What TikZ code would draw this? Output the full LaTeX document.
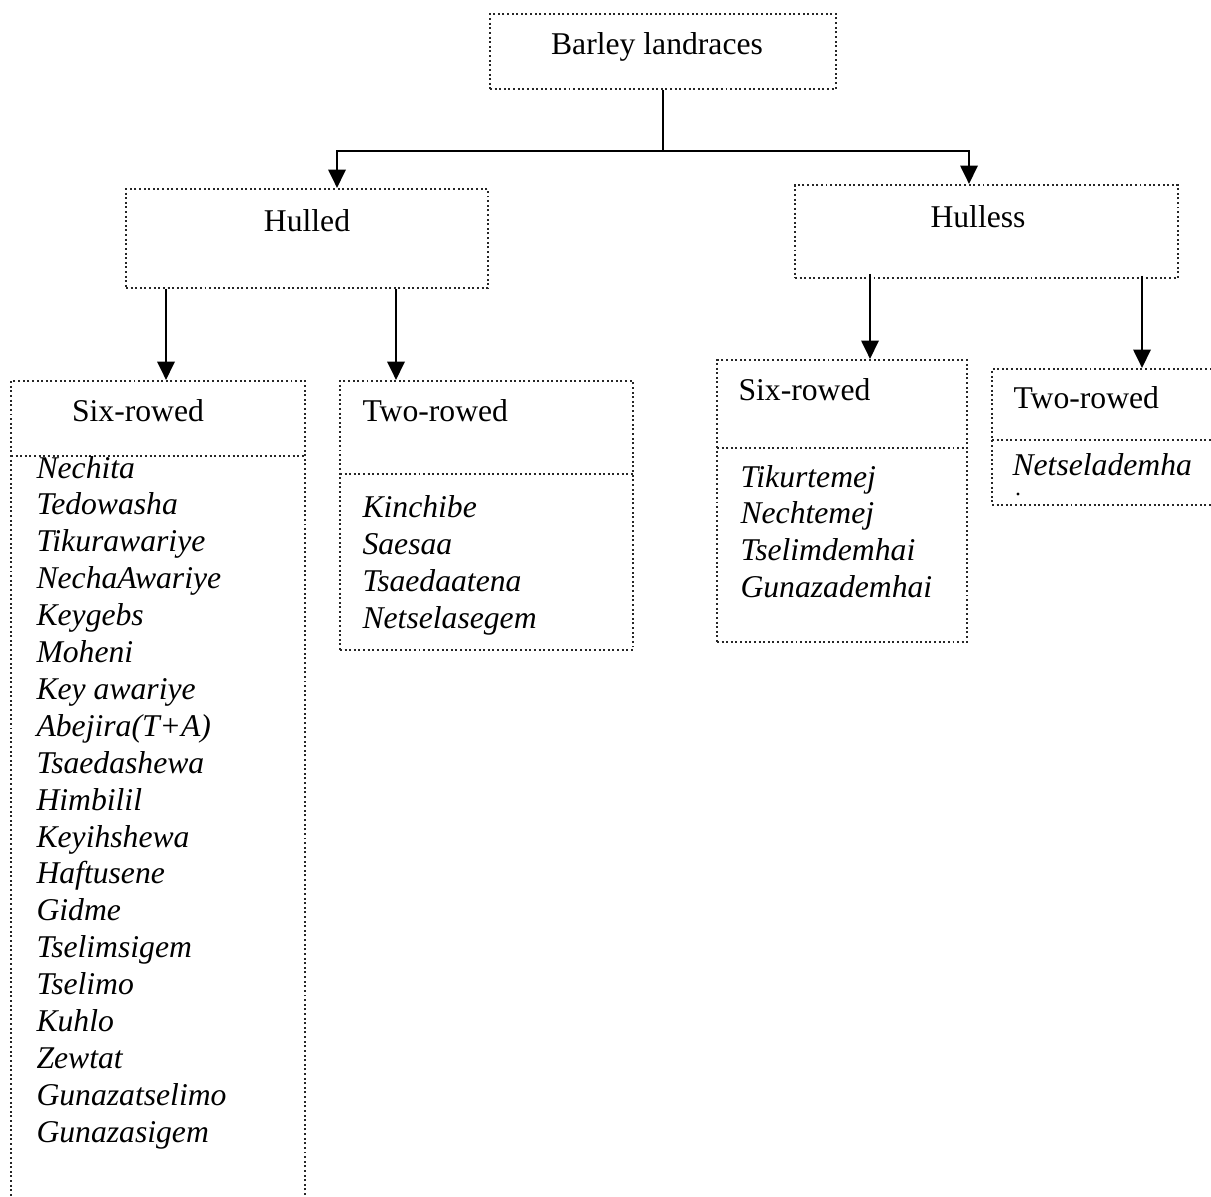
\documentclass[tikz,border=0pt]{standalone}
\usepackage{fontspec}
\setmainfont{Liberation Serif}
\usetikzlibrary{arrows.meta,fit,calc}
\begin{document}
\begin{tikzpicture}[x=0.379pt,y=-0.379pt,
  box/.style={draw=black!85, densely dotted, line width=0.75pt, inner sep=0pt},
  divider/.style={draw=black!85, densely dotted, line width=0.75pt},
  txt/.style={inner sep=0pt, font=\fontsize{12pt}{14pt}\selectfont},
  itm/.style={inner sep=0pt, font=\fontsize{12pt}{14pt}\selectfont\itshape, anchor=base west},
  conn/.style={line width=1.1pt, draw=black},
  arr/.style={conn, -{Triangle[width=6.5pt,length=7pt]}}]
\useasboundingbox (0,0) rectangle (1211,1196);
\clip (0,0) rectangle (1211,1196);

% boxes
\node[box, fit={(490,14) (836,89)}] (root) {};
\node[box, fit={(126,189) (488,288)}] (hulled) {};
\node[box, fit={(795,185) (1178,278)}] (hulless) {};
\node[box, fit={(11,381) (305,1215)}] (six1) {};
\node[box, fit={(340,381) (633,650)}] (two1) {};
\node[box, fit={(717,360) (967,642)}] (six2) {};
\node[box, fit={(992,369) (1230,505)}] (two2) {};

% dividers
\draw[divider] (11,456) -- (305,456);
\draw[divider] (340,474) -- (633,474);
\draw[divider] (717,448) -- (967,448);
\draw[divider] (992,440) -- (1230,440);

% headings
\node[txt, anchor=base] (troot) at (657,54) {Barley landraces};
\node[txt, anchor=base] (thulled) at (307,231) {Hulled};
\node[txt, anchor=base] (thulless) at (978,227) {Hulless};
\node[txt, anchor=base] (tsix1) at (138,421) {Six-rowed};
\node[txt, anchor=base west] (ttwo1) at (362,421) {Two-rowed};
\node[txt, anchor=base west] (tsix2) at (738,400) {Six-rowed};
\node[txt, anchor=base west] (ttwo2) at (1013,408) {Two-rowed};

% lists
\foreach \t [count=\i] in {Nechita, Tedowasha, Tikurawariye, NechaAwariye, Keygebs, Moheni, Key awariye, Abejira(T+A), Tsaedashewa, Himbilil, Keyihshewa, Haftusene, Gidme, Tselimsigem, Tselimo, Kuhlo, Zewtat, Gunazatselimo, Gunazasigem}
  \node[itm] (sa\i) at (36,{478+36.9*(\i-1)}) {\t};
\foreach \t [count=\i] in {Kinchibe, Saesaa, Tsaedaatena, Netselasegem}
  \node[itm] (ta\i) at (362,{517+37*(\i-1)}) {\t};
\foreach \t [count=\i] in {Tikurtemej, Nechtemej, Tselimdemhai, Gunazademhai}
  \node[itm] (sb\i) at (740,{487+36.7*(\i-1)}) {\t};
\node[itm] (tb1) at (1012,475) {Netselademha};
\fill[black] (1018,494) circle (0.6pt);

% connectors
\coordinate (j) at ($(root.south)+(0,61)$);
\draw[conn] (root.south) -- (j);
\draw[arr] (j) -| ($(hulled.north west)+(212,0)$);
\draw[arr] (j) -| ($(hulless.north west)+(175,0)$);
\draw[arr] ($(hulled.south west)+(41,0)$) -- ($(six1.north west)+(156,0)$);
\draw[arr] ($(hulled.south west)+(271,0)$) -- ($(two1.north west)+(57,0)$);
\draw[arr] ($(hulless.south west)+(76,-5)$) -- ($(six2.north west)+(154,0)$);
\draw[arr] ($(hulless.south west)+(348,-3)$) -- ($(two2.north west)+(151,0)$);
\end{tikzpicture}
\end{document}
